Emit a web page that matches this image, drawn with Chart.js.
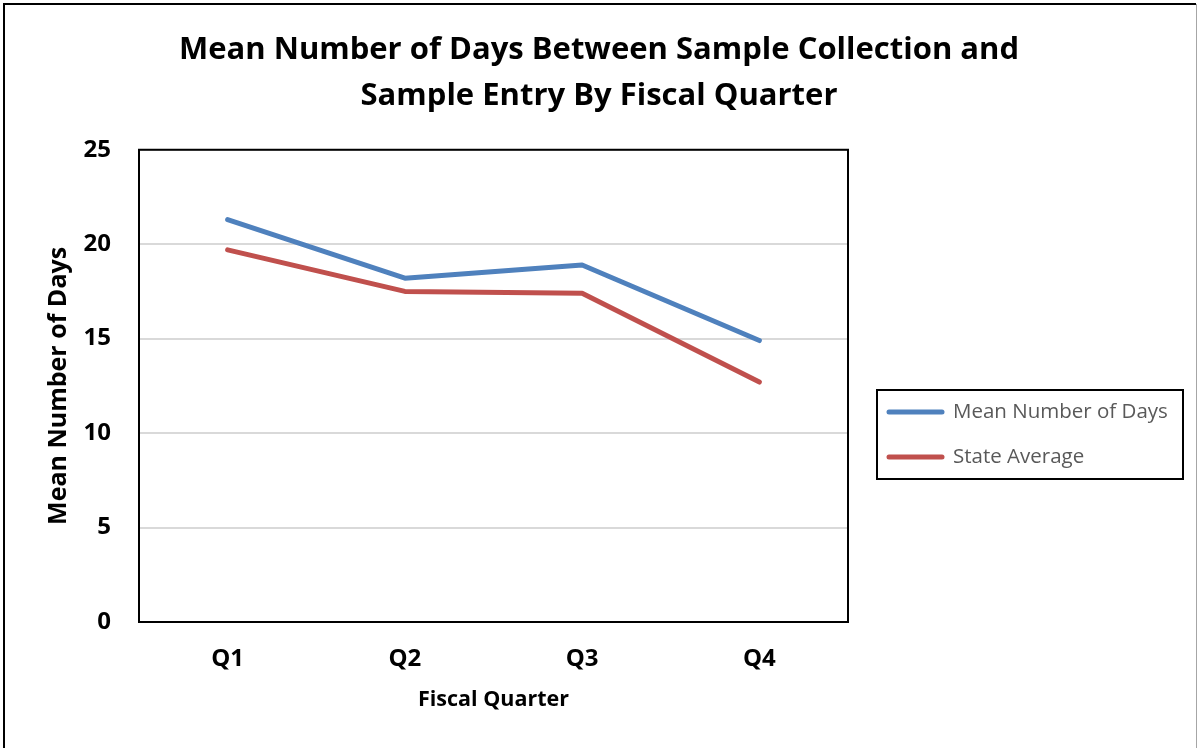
<!DOCTYPE html>
<html>
<head>
<meta charset="utf-8">
<title>Mean Number of Days Between Sample Collection and Sample Entry</title>
<script src="https://cdn.jsdelivr.net/npm/chart.js@4.4.1/dist/chart.umd.min.js"></script>
<style>
    html, body { margin: 0; padding: 0; background: #fff; }
    #wrap { width: 1198px; height: 748px; position: relative; }
</style>
</head>
<body>
<div id="wrap"><canvas id="daysChart" width="1198" height="748"></canvas></div>
<script>
// Chart data
const quarters = ['Q1', 'Q2', 'Q3', 'Q4'];
const meanDays = [21.3, 18.2, 18.9, 14.9];
const stateAverage = [19.7, 17.5, 17.4, 12.7];
const seriesNames = ['Mean Number of Days', 'State Average'];
const titleLines = ['Mean Number of Days Between Sample Collection and', 'Sample Entry By Fiscal Quarter'];

const FONT = '"Open Sans", Lato, sans-serif';

// Outer frame and plot border
const framePlugin = {
    id: 'frame',
    beforeDraw(chart) {
        const ctx = chart.ctx;
        ctx.save();
        ctx.fillStyle = '#ffffff';
        ctx.fillRect(0, 0, chart.width, chart.height);
        ctx.lineWidth = 2;
        ctx.strokeStyle = '#000000';
        ctx.beginPath();
        ctx.moveTo(4, chart.height);
        ctx.lineTo(4, 4);
        ctx.lineTo(chart.width - 2, 4);
        ctx.stroke();
        ctx.strokeStyle = '#a6a6a6';
        ctx.lineWidth = 1;
        ctx.beginPath();
        ctx.moveTo(chart.width - 1.5, 4);
        ctx.lineTo(chart.width - 1.5, chart.height);
        ctx.stroke();
        ctx.restore();
    },
    beforeDatasetsDraw(chart) {
        const a = chart.chartArea;
        const ctx = chart.ctx;
        ctx.save();
        ctx.strokeStyle = '#000000';
        ctx.lineWidth = 2;
        ctx.strokeRect(a.left, a.top, a.right - a.left, a.bottom - a.top);
        ctx.restore();
    }
};

// Boxed legend to the right of the plot
const boxLegendPlugin = {
    id: 'boxLegend',
    afterDraw(chart) {
        const ctx = chart.ctx;
        const x = 877, y = 390, w = 306, h = 89;
        ctx.save();
        ctx.strokeStyle = '#000000';
        ctx.lineWidth = 2;
        ctx.strokeRect(x, y, w, h);
        ctx.font = '20.5px ' + FONT;
        ctx.textBaseline = 'middle';
        chart.data.datasets.forEach((ds, i) => {
            const ly = 412 + i * 45;
            ctx.strokeStyle = ds.borderColor;
            ctx.lineWidth = 5;
            ctx.lineCap = 'round';
            ctx.beginPath();
            ctx.moveTo(889, ly);
            ctx.lineTo(942, ly);
            ctx.stroke();
            ctx.fillStyle = '#595959';
            ctx.fillText(ds.label, 953, ly);
        });
        ctx.restore();
    }
};

function buildChart() {
    const ctx = document.getElementById('daysChart');
    new Chart(ctx, {
        type: 'line',
        data: {
            labels: quarters,
            datasets: [
                {
                    label: seriesNames[0],
                    data: meanDays,
                    borderColor: '#4f81bd',
                    backgroundColor: '#4f81bd',
                    borderWidth: 5,
                    borderCapStyle: 'round',
                    borderJoinStyle: 'round',
                    pointRadius: 0,
                    tension: 0
                },
                {
                    label: seriesNames[1],
                    data: stateAverage,
                    borderColor: '#c0504d',
                    backgroundColor: '#c0504d',
                    borderWidth: 5,
                    borderCapStyle: 'round',
                    borderJoinStyle: 'round',
                    pointRadius: 0,
                    tension: 0
                }
            ]
        },
        options: {
            responsive: false,
            animation: false,
            layout: {
                padding: { left: 0, right: 0, top: 0, bottom: 0 }
            },
            plugins: {
                legend: { display: false },
                tooltip: { enabled: false },
                title: {
                    display: true,
                    text: titleLines,
                    color: '#000000',
                    font: { family: FONT, size: 31, weight: 'bold', lineHeight: 1.48 },
                    padding: { top: 27, bottom: 31 }
                }
            },
            scales: {
                x: {
                    offset: true,
                    grid: { display: false, drawTicks: false },
                    border: { display: false },
                    ticks: {
                        color: '#000000',
                        padding: 23,
                        font: { family: FONT, size: 24, weight: 'bold' }
                    },
                    title: {
                        display: true,
                        text: 'Fiscal Quarter',
                        color: '#000000',
                        font: { family: FONT, size: 21.5, weight: 'bold' },
                        padding: { top: 0, bottom: 35 }
                    },
                    afterFit(scale) { scale.height = 126; }
                },
                y: {
                    min: 0,
                    max: 25,
                    grid: { color: '#d9d9d9', lineWidth: 2, drawTicks: false },
                    border: { display: false },
                    ticks: {
                        stepSize: 5,
                        color: '#000000',
                        padding: 28,
                        font: { family: FONT, size: 24, weight: 'bold' }
                    },
                    title: {
                        display: true,
                        text: 'Mean Number of Days',
                        color: '#000000',
                        font: { family: FONT, size: 25, weight: 'bold' },
                        padding: { top: 44, bottom: 0 }
                    },
                    afterFit(scale) { scale.width = 139; }
                },
                // empty right-hand band that leaves room for the boxed legend
                legendSpace: {
                    type: 'linear',
                    position: 'right',
                    display: true,
                    grid: { display: false, drawTicks: false },
                    border: { display: false },
                    ticks: { display: false },
                    afterFit(scale) { scale.width = 350; }
                }
            }
        },
        plugins: [framePlugin, boxLegendPlugin]
    });
}

document.fonts.load('bold 30px "Open Sans"').then(buildChart, buildChart);
</script>
</body>
</html>
